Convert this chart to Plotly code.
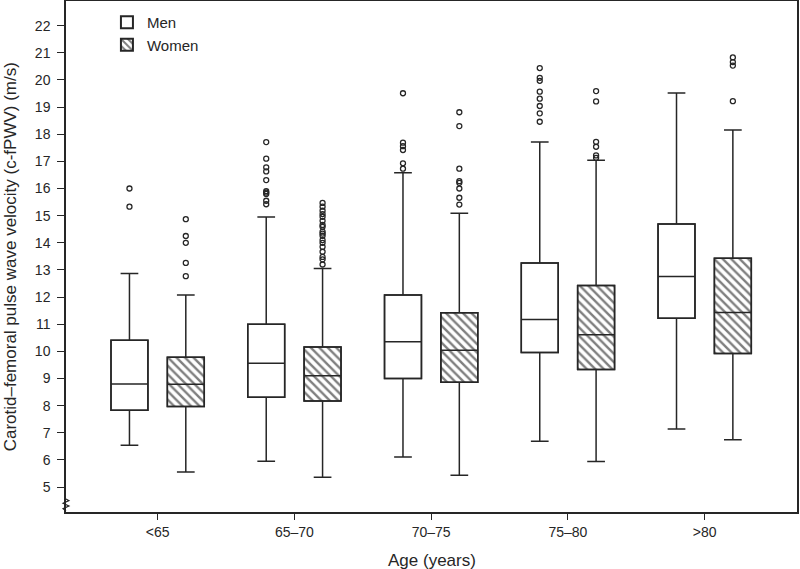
import plotly.graph_objects as go

categories = ["<65", "65–70", "70–75", "75–80", ">80"]

men_q1 = [7.83, 8.31, 9.00, 9.96, 11.22]
men_median = [8.80, 9.56, 10.35, 11.17, 12.76]
men_q3 = [10.41, 11.00, 12.08, 13.26, 14.69]
men_low = [6.54, 5.95, 6.11, 6.69, 7.14]
men_high = [12.87, 14.95, 16.58, 17.71, 19.52]

women_q1 = [7.97, 8.17, 8.86, 9.33, 9.92]
women_median = [8.79, 9.10, 10.04, 10.61, 11.43]
women_q3 = [9.78, 10.16, 11.42, 12.43, 13.43]
women_low = [5.55, 5.36, 5.43, 5.94, 6.74]
women_high = [12.08, 13.05, 15.09, 17.04, 18.16]

men_outliers = [
    [16.0, 15.33],
    [17.71, 17.1, 16.78, 16.63, 16.31, 15.9, 15.85, 15.8, 15.55, 15.42],
    [19.51, 17.69, 17.56, 17.42, 16.93, 16.73],
    [20.44, 20.08, 19.97, 19.57, 19.31, 19.04, 18.77, 18.46],
    [],
]
women_outliers = [
    [14.87, 14.25, 14.0, 13.26, 12.77],
    [15.47, 15.33, 15.18, 15.06, 14.96, 14.81, 14.66, 14.59, 14.41, 14.34,
     14.26, 14.10, 14.0, 13.85, 13.67, 13.48, 13.39, 13.20],
    [18.81, 18.30, 16.73, 16.27, 16.21, 16.0, 15.66, 15.41],
    [19.59, 19.21, 17.72, 17.54, 17.22, 17.13],
    [20.83, 20.66, 20.53, 19.22],
]

y_ticks = list(range(5, 23))

OFF = 0.206
BW = 0.27
INK = "#262626"
FONT = "Liberation Sans, Arial, Helvetica, sans-serif"

cat_pos = list(range(len(categories)))
men_x = [p - OFF for p in cat_pos]
women_x = [p + OFF for p in cat_pos]

fig = go.Figure()

# Box bodies as bars (gives legend swatches + hatch pattern)
fig.add_trace(go.Bar(
    x=men_x, base=men_q1, y=[b - a for a, b in zip(men_q1, men_q3)],
    width=BW, name="Men",
    marker=dict(color="white", line=dict(color=INK, width=1.5)),
    hoverinfo="skip",
))
fig.add_trace(go.Bar(
    x=women_x, base=women_q1, y=[b - a for a, b in zip(women_q1, women_q3)],
    width=BW, name="Women",
    marker=dict(color="white", line=dict(color=INK, width=1.5),
                pattern=dict(shape="\\", fgcolor="#000000", bgcolor="white",
                             size=6, solidity=0.4, fillmode="overlay")),
    hoverinfo="skip",
))

# Whiskers and medians
for xs, q1, med, q3, lo, hi in [
    (men_x, men_q1, men_median, men_q3, men_low, men_high),
    (women_x, women_q1, women_median, women_q3, women_low, women_high),
]:
    fig.add_trace(go.Box(
        x=xs, q1=q1, median=med, q3=q3, lowerfence=lo, upperfence=hi,
        width=BW, whiskerwidth=0.48, boxpoints=False,
        fillcolor="rgba(0,0,0,0)", line=dict(color=INK, width=1.5),
        showlegend=False,
    ))

# Outliers
for xs, outs in [(men_x, men_outliers), (women_x, women_outliers)]:
    ox, oy = [], []
    for x, vals in zip(xs, outs):
        ox += [x] * len(vals)
        oy += vals
    fig.add_trace(go.Scatter(
        x=ox, y=oy, mode="markers", showlegend=False,
        marker=dict(symbol="circle-open", size=5, color=INK,
                    line=dict(color=INK, width=1.3)),
    ))

# axis break mark
fig.add_shape(type="path", xref="paper", yref="y",
              path="M 0,4.12 L -0.004,4.2 L 0.004,4.3 L -0.004,4.4 L 0.004,4.5 L 0,4.56",
              line=dict(color=INK, width=1.2))

# axis titles as annotations for exact placement
fig.add_annotation(text="Age (years)", xref="paper", yref="paper",
                   x=0.5, y=-0.095, xanchor="center", yanchor="middle",
                   showarrow=False, font=dict(size=17, color=INK))
fig.add_annotation(text="Carotid–femoral pulse wave velocity (c-fPWV) (m/s)",
                   xref="paper", yref="paper", x=-0.0755, y=0.5,
                   xanchor="center", yanchor="middle", textangle=-90,
                   showarrow=False, font=dict(size=17, color=INK))

fig.update_layout(
    width=800, height=569,
    margin=dict(l=66, r=3, t=1, b=57, autoexpand=False),
    paper_bgcolor="white", plot_bgcolor="white",
    barmode="overlay", boxmode="overlay",
    font=dict(family=FONT, color=INK, size=14),
    showlegend=True,
    legend=dict(x=0.056, y=0.99, xanchor="left", yanchor="top",
                bgcolor="rgba(0,0,0,0)", font=dict(size=15, color=INK),
                tracegroupgap=0, itemsizing="constant"),
)
fig.update_xaxes(
    range=[-0.67, 4.675], tickmode="array", tickvals=cat_pos, ticktext=categories,
    showline=True, linecolor=INK, linewidth=1.5, mirror=True,
    ticks="outside", ticklen=6, tickcolor=INK, tickwidth=1.2,
    showgrid=False, zeroline=False, automargin=False,
)
fig.update_yaxes(
    range=[4.08, 22.91], tickmode="array", tickvals=y_ticks,
    showline=True, linecolor=INK, linewidth=1.5, mirror=True,
    ticks="outside", ticklen=7, tickcolor=INK, tickwidth=1.2,
    ticklabelstandoff=4,
    showgrid=False, zeroline=False, automargin=False,
)

fig.write_html("out.html", config={"displayModeBar": False},
               post_script="document.body.style.margin='0';document.body.style.overflow='hidden';")
